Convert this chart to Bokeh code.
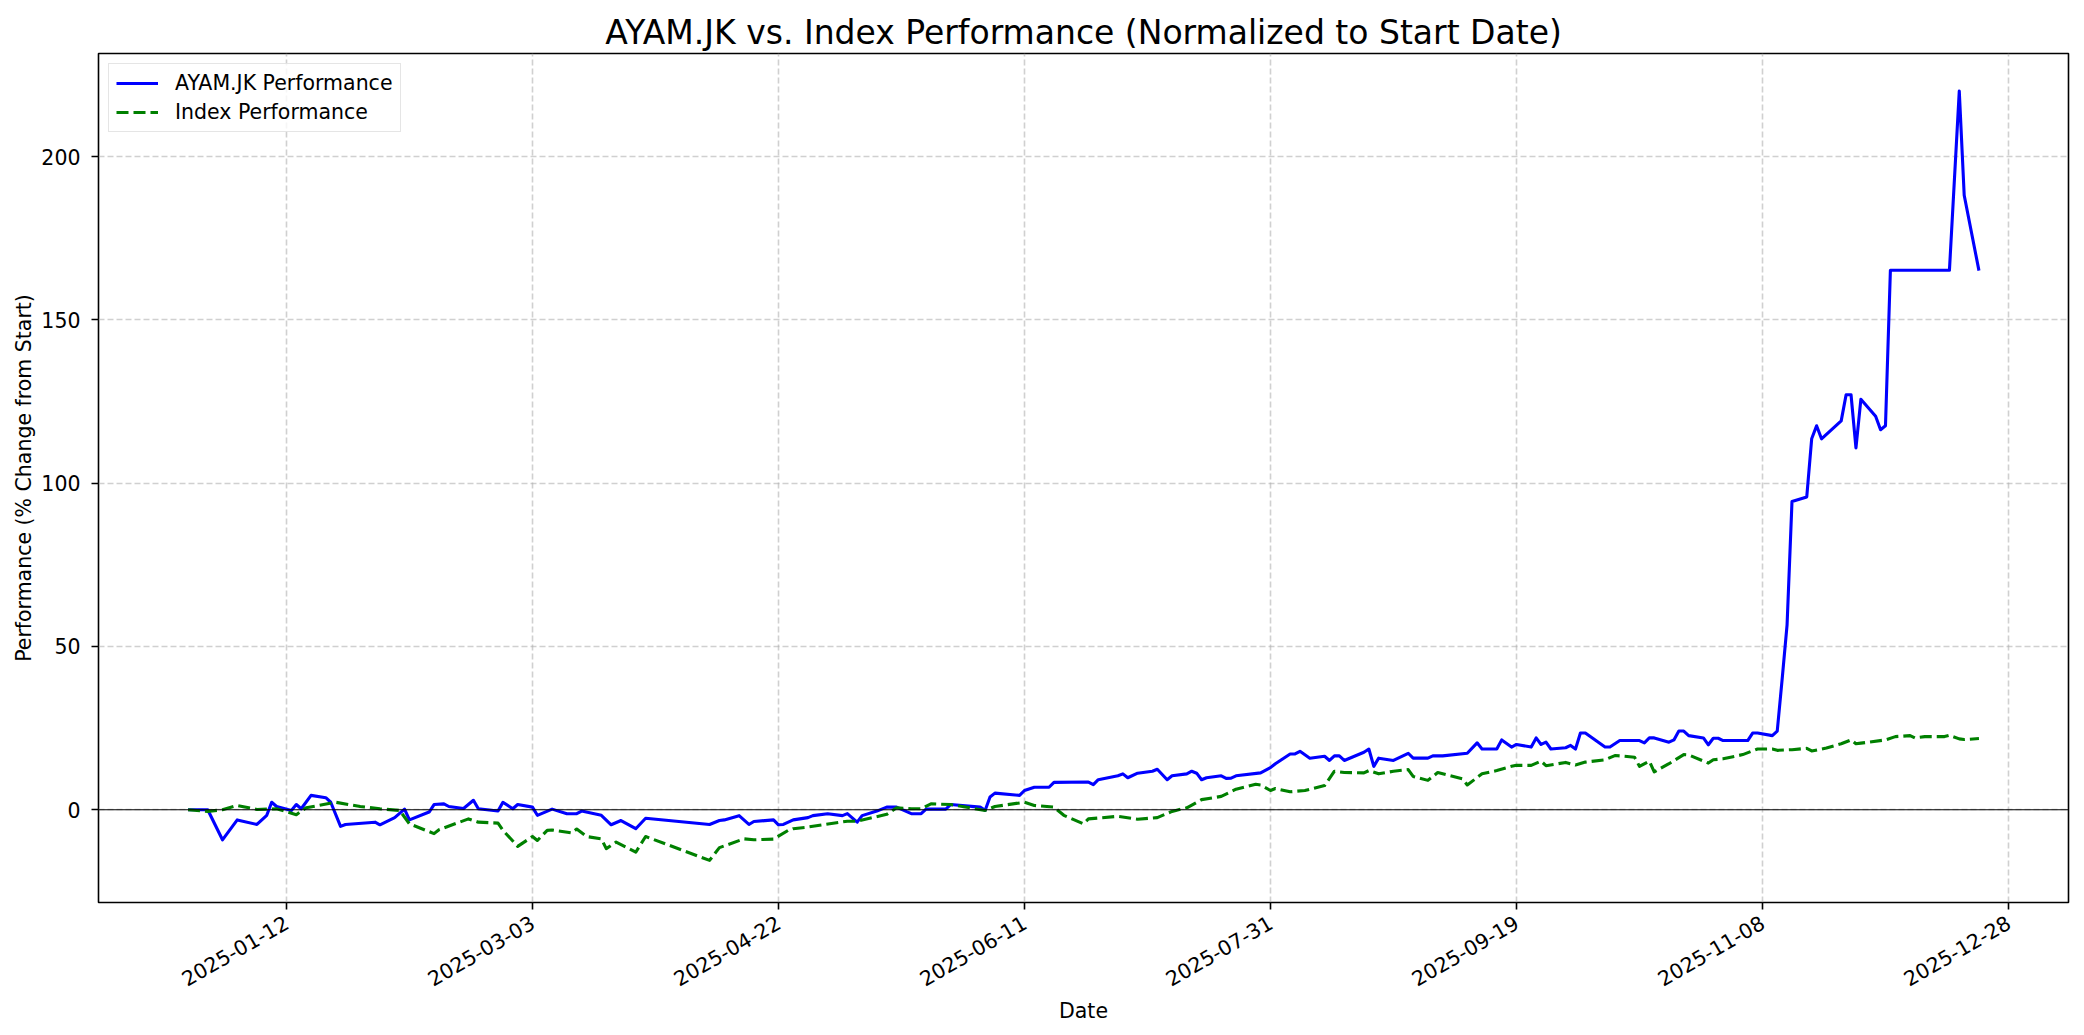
import math
import pandas as pd
from bokeh.plotting import figure
from bokeh.models import ColumnDataSource, Range1d, FixedTicker, DatetimeTickFormatter, Span
from bokeh.embed import file_html
from bokeh.resources import INLINE

TITLE = "AYAM.JK vs. Index Performance (Normalized to Start Date)"
X_LABEL = "Date"
Y_LABEL = "Performance (% Change from Start)"
AYAM_NAME = "AYAM.JK Performance"
INDEX_NAME = "Index Performance"

ayam_dates = [
    "2024-12-23", "2024-12-27", "2024-12-30", "2025-01-02", "2025-01-06", "2025-01-08", "2025-01-09",
    "2025-01-10", "2025-01-13", "2025-01-14", "2025-01-15", "2025-01-17", "2025-01-20", "2025-01-21",
    "2025-01-23", "2025-01-24", "2025-01-30", "2025-01-31", "2025-02-03", "2025-02-05", "2025-02-06",
    "2025-02-10", "2025-02-11", "2025-02-13", "2025-02-14", "2025-02-17", "2025-02-19", "2025-02-20",
    "2025-02-24", "2025-02-25", "2025-02-27", "2025-02-28", "2025-03-03", "2025-03-04", "2025-03-07",
    "2025-03-10", "2025-03-12", "2025-03-13", "2025-03-17", "2025-03-19", "2025-03-21", "2025-03-24",
    "2025-03-26", "2025-04-08", "2025-04-10", "2025-04-11", "2025-04-14", "2025-04-16", "2025-04-17",
    "2025-04-21", "2025-04-22", "2025-04-23", "2025-04-25", "2025-04-28", "2025-04-29", "2025-05-02",
    "2025-05-05", "2025-05-06", "2025-05-08", "2025-05-09", "2025-05-12", "2025-05-14", "2025-05-16",
    "2025-05-19", "2025-05-21", "2025-05-22", "2025-05-26", "2025-05-27", "2025-06-02", "2025-06-03",
    "2025-06-04", "2025-06-05", "2025-06-10", "2025-06-11", "2025-06-13", "2025-06-16", "2025-06-17",
    "2025-06-24", "2025-06-25", "2025-06-26", "2025-06-30", "2025-07-01", "2025-07-02", "2025-07-04",
    "2025-07-07", "2025-07-08", "2025-07-10", "2025-07-11", "2025-07-14", "2025-07-15", "2025-07-16",
    "2025-07-17", "2025-07-18", "2025-07-21", "2025-07-22", "2025-07-23", "2025-07-24", "2025-07-29",
    "2025-07-31", "2025-08-01", "2025-08-04", "2025-08-05", "2025-08-06", "2025-08-08", "2025-08-11",
    "2025-08-12", "2025-08-13", "2025-08-14", "2025-08-15", "2025-08-19", "2025-08-20", "2025-08-21",
    "2025-08-22", "2025-08-25", "2025-08-28", "2025-08-29", "2025-09-01", "2025-09-02", "2025-09-04",
    "2025-09-09", "2025-09-11", "2025-09-12", "2025-09-15", "2025-09-16", "2025-09-18", "2025-09-19",
    "2025-09-22", "2025-09-23", "2025-09-24", "2025-09-25", "2025-09-26", "2025-09-29", "2025-09-30",
    "2025-10-01", "2025-10-02", "2025-10-03", "2025-10-07", "2025-10-08", "2025-10-10", "2025-10-14",
    "2025-10-15", "2025-10-16", "2025-10-17", "2025-10-20", "2025-10-21", "2025-10-22", "2025-10-23",
    "2025-10-24", "2025-10-27", "2025-10-28", "2025-10-29", "2025-10-30", "2025-10-31", "2025-11-05",
    "2025-11-06", "2025-11-07", "2025-11-10", "2025-11-11", "2025-11-12", "2025-11-13", "2025-11-14",
    "2025-11-17", "2025-11-18", "2025-11-19", "2025-11-20", "2025-11-24", "2025-11-25", "2025-11-26",
    "2025-11-27", "2025-11-28", "2025-12-01", "2025-12-02", "2025-12-03", "2025-12-04", "2025-12-16",
    "2025-12-18", "2025-12-19", "2025-12-22",
]
ayam_perf = [
    0.0, 0.0, -9.2, -3.1, -4.5, -1.7, 2.3,
    1.0, -0.2, 1.6, 0.3, 4.4, 3.7, 2.3,
    -5.1, -4.5, -3.8, -4.6, -2.4, 0.2, -3.1,
    -0.7, 1.6, 1.8, 1.0, 0.4, 2.9, 0.3,
    -0.4, 2.3, 0.3, 1.6, 0.8, -1.7, 0.2,
    -1.2, -1.2, -0.4, -1.7, -4.6, -3.3, -5.8,
    -2.6, -4.5, -3.3, -3.1, -1.8, -4.5, -3.6,
    -3.1, -4.6, -4.5, -3.1, -2.4, -1.8, -1.2,
    -1.8, -1.2, -3.8, -1.8, -0.4, 0.8, 0.8,
    -1.2, -1.2, 0.2, 0.2, 1.6, 0.8, -0.2,
    3.9, 5.1, 4.4, 5.9, 6.9, 6.9, 8.4,
    8.5, 7.7, 9.2, 10.4, 11.0, 9.8, 11.2,
    11.8, 12.4, 9.2, 10.4, 11.0, 11.8, 11.2,
    9.2, 9.8, 10.4, 9.6, 9.7, 10.4, 11.3,
    12.9, 14.1, 17.1, 17.1, 17.9, 15.8, 16.4,
    15.1, 16.5, 16.5, 15.1, 17.6, 18.6, 13.3,
    15.8, 15.1, 17.3, 15.8, 15.8, 16.5, 16.5,
    17.3, 20.5, 18.6, 18.6, 21.4, 19.2, 20.0,
    19.2, 22.0, 20.0, 20.7, 18.6, 19.0, 19.7,
    18.6, 23.5, 23.5, 19.2, 19.2, 21.2, 21.2,
    20.5, 22.0, 22.0, 20.7, 21.4, 24.1, 24.1,
    22.7, 22.0, 19.9, 21.9, 21.9, 21.2, 21.2,
    23.5, 23.5, 22.7, 24.1, 40.0, 56.6, 94.4,
    95.8, 113.6, 117.6, 113.6, 119.1, 127.1, 127.1,
    110.8, 125.7, 120.5, 116.4, 117.6, 165.2, 165.2,
    220.1, 188.2, 165.1,
]

index_dates = [
    "2024-12-23", "2024-12-27", "2024-12-30", "2025-01-02", "2025-01-06", "2025-01-10", "2025-01-14",
    "2025-01-16", "2025-01-22", "2025-01-27", "2025-01-31", "2025-02-04", "2025-02-06", "2025-02-11",
    "2025-02-12", "2025-02-18", "2025-02-20", "2025-02-24", "2025-02-25", "2025-02-28", "2025-03-03",
    "2025-03-04", "2025-03-06", "2025-03-07", "2025-03-11", "2025-03-12", "2025-03-14", "2025-03-17",
    "2025-03-18", "2025-03-20", "2025-03-24", "2025-03-26", "2025-04-08", "2025-04-10", "2025-04-15",
    "2025-04-17", "2025-04-21", "2025-04-24", "2025-04-25", "2025-04-28", "2025-05-06", "2025-05-08",
    "2025-05-14", "2025-05-16", "2025-05-19", "2025-05-21", "2025-05-23", "2025-05-27", "2025-06-03",
    "2025-06-05", "2025-06-11", "2025-06-13", "2025-06-17", "2025-06-19", "2025-06-23", "2025-06-24",
    "2025-06-30", "2025-07-04", "2025-07-08", "2025-07-11", "2025-07-14", "2025-07-17", "2025-07-21",
    "2025-07-24", "2025-07-28", "2025-07-29", "2025-07-31", "2025-08-01", "2025-08-04", "2025-08-07",
    "2025-08-11", "2025-08-13", "2025-08-15", "2025-08-19", "2025-08-20", "2025-08-22", "2025-08-25",
    "2025-08-28", "2025-08-29", "2025-09-01", "2025-09-03", "2025-09-08", "2025-09-09", "2025-09-12",
    "2025-09-15", "2025-09-18", "2025-09-19", "2025-09-22", "2025-09-24", "2025-09-25", "2025-09-29",
    "2025-10-01", "2025-10-03", "2025-10-07", "2025-10-09", "2025-10-10", "2025-10-13", "2025-10-14",
    "2025-10-16", "2025-10-17", "2025-10-20", "2025-10-23", "2025-10-24", "2025-10-28", "2025-10-29",
    "2025-10-31", "2025-11-04", "2025-11-07", "2025-11-10", "2025-11-11", "2025-11-14", "2025-11-17",
    "2025-11-18", "2025-11-21", "2025-11-24", "2025-11-26", "2025-11-27", "2025-11-28", "2025-12-03",
    "2025-12-05", "2025-12-08", "2025-12-09", "2025-12-11", "2025-12-15", "2025-12-16", "2025-12-18",
    "2025-12-19", "2025-12-22",
]
index_perf = [
    0.0, -0.5, 0.0, 1.3, 0.1, 0.3, -1.5,
    0.6, 2.3, 1.0, 0.3, -0.2, -4.3, -7.3,
    -6.1, -2.8, -3.8, -4.1, -6.3, -11.2, -8.2,
    -9.4, -6.3, -6.2, -7.1, -5.9, -8.2, -8.9,
    -11.9, -9.9, -13.0, -8.2, -15.5, -11.6, -8.9,
    -9.2, -9.0, -6.3, -5.8, -5.3, -3.5, -3.5,
    -1.4, 0.6, 0.3, 0.3, 1.8, 1.6, -0.2,
    1.0, 2.3, 1.3, 0.8, -1.7, -4.3, -2.8,
    -2.0, -2.9, -2.4, -0.5, 0.6, 3.1, 4.1,
    6.3, 7.8, 7.6, 5.9, 6.5, 5.5, 5.9,
    7.4, 11.8, 11.4, 11.3, 12.0, 11.0, 11.8,
    12.3, 10.2, 9.0, 11.4, 9.5, 7.6, 11.0,
    12.0, 13.3, 13.6, 13.6, 14.9, 13.5, 14.5,
    13.7, 14.6, 15.3, 16.6, 16.5, 16.1, 13.3,
    14.9, 11.6, 14.1, 16.9, 16.8, 14.3, 15.3,
    15.6, 16.9, 18.6, 18.6, 18.2, 18.4, 18.8,
    18.0, 18.9, 20.2, 21.4, 20.2, 20.4, 21.4,
    22.4, 22.7, 22.0, 22.4, 22.4, 22.8, 21.7,
    21.5, 21.8,
]

x_tick_labels = ["2025-01-12", "2025-03-03", "2025-04-22", "2025-06-11",
                 "2025-07-31", "2025-09-19", "2025-11-08", "2025-12-28"]
y_ticks = [0, 50, 100, 150, 200]

FONT = "DejaVu Sans"
LABEL_SIZE = "20.5px"

ayam_src = ColumnDataSource(dict(date=pd.to_datetime(ayam_dates), perf=ayam_perf))
index_src = ColumnDataSource(dict(date=pd.to_datetime(index_dates), perf=index_perf))

all_dates = pd.to_datetime(ayam_dates + index_dates)
d_span = all_dates.max() - all_dates.min()
x_start = (all_dates.min() - 0.05 * d_span).to_pydatetime()
x_end = (all_dates.max() + 0.05 * d_span).to_pydatetime()

p = figure(width=2076, height=1027, x_axis_type="datetime",
           output_backend="svg", toolbar_location=None,
           x_range=Range1d(x_start, x_end), y_range=Range1d(-28.4, 231.6),
           min_border_left=98, min_border_right=8, min_border_top=53, min_border_bottom=125)

p.title.text = TITLE
p.title.align = "center"
p.title.text_font = FONT
p.title.text_font_size = "33px"
p.title.text_font_style = "normal"
p.title.text_color = "black"
p.title.standoff = 4

p.background_fill_color = "white"
p.border_fill_color = "white"
p.outline_line_color = "black"
p.outline_line_width = 1.6
p.outline_line_alpha = 1.0

for g in (p.xgrid, p.ygrid):
    g.grid_line_color = "#b0b0b0"
    g.grid_line_alpha = 0.6
    g.grid_line_width = 1.6
    g.grid_line_dash = "6 3"

x_tick_ms = [pd.Timestamp(t).value / 1e6 for t in x_tick_labels]
p.xaxis.ticker = FixedTicker(ticks=x_tick_ms)
p.xgrid.ticker = FixedTicker(ticks=x_tick_ms)
p.yaxis.ticker = FixedTicker(ticks=y_ticks)
p.ygrid.ticker = FixedTicker(ticks=y_ticks)
fmt = "%Y-%m-%d"
p.xaxis.formatter = DatetimeTickFormatter(microseconds=fmt, milliseconds=fmt, seconds=fmt, minsec=fmt,
                                          minutes=fmt, hourmin=fmt, hours=fmt, days=fmt,
                                          months=fmt, years=fmt)
p.xaxis.major_label_orientation = math.pi / 6

for ax in (p.xaxis, p.yaxis):
    ax.axis_line_color = None
    ax.major_tick_line_color = "black"
    ax.major_tick_line_width = 1.6
    ax.major_tick_out = 7
    ax.major_tick_in = 0
    ax.minor_tick_line_color = None
    ax.major_label_text_font = FONT
    ax.major_label_text_font_size = LABEL_SIZE
    ax.major_label_text_color = "black"
    ax.axis_label_text_font = FONT
    ax.axis_label_text_font_size = LABEL_SIZE
    ax.axis_label_text_font_style = "normal"
    ax.axis_label_text_color = "black"

p.xaxis.axis_label = X_LABEL
p.yaxis.axis_label = Y_LABEL
p.xaxis.major_label_standoff = 11
p.yaxis.major_label_standoff = 11
p.xaxis.axis_label_standoff = 2
p.yaxis.axis_label_standoff = 2

p.add_layout(Span(location=0, dimension="width", line_color="black", line_width=1.0))

p.line("date", "perf", source=ayam_src, line_color="#0000ff", line_width=3.1,
       line_join="round", legend_label=AYAM_NAME)
p.line("date", "perf", source=index_src, line_color="#008000", line_width=3.1,
       line_dash="12 5", line_join="round", legend_label=INDEX_NAME)

lg = p.legend[0]
lg.location = "top_left"
lg.margin = 10
lg.padding = 7
lg.spacing = 5
lg.glyph_width = 42
lg.glyph_height = 24
lg.label_height = 24
lg.label_standoff = 17
lg.label_text_font = FONT
lg.label_text_font_size = LABEL_SIZE
lg.label_text_color = "black"
lg.border_line_color = "#cccccc"
lg.border_line_width = 1.6
lg.background_fill_color = "white"
lg.background_fill_alpha = 0.8

open("out.html", "w").write(file_html(p, INLINE))
